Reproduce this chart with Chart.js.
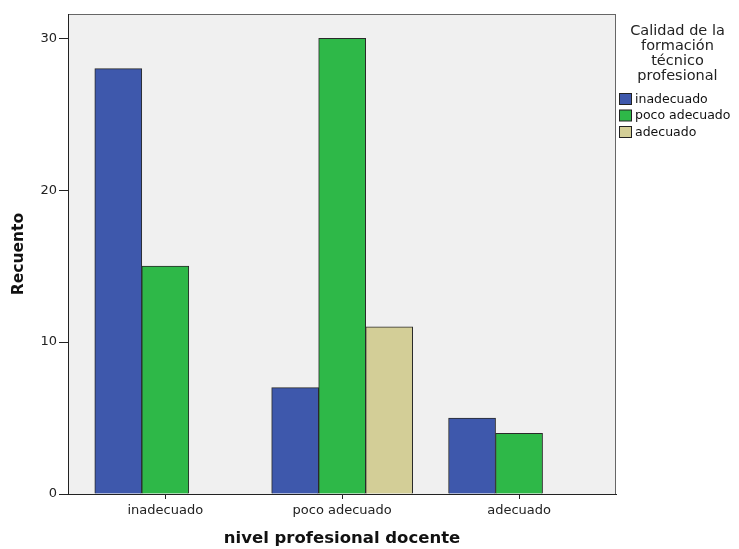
<!DOCTYPE html>
<html>
<head>
<meta charset="utf-8">
<script src="https://cdn.jsdelivr.net/npm/chart.js@4/dist/chart.umd.min.js"></script>
<style>
  html, body { margin: 0; padding: 0; background: #fff; }
</style>
</head>
<body>
<canvas id="chart-recuento" width="739" height="549"></canvas>
<script>
// nivel profesional docente x Calidad de la formación técnico profesional
const categories = ["inadecuado", "poco adecuado", "adecuado"];
const categoryPos = [1, 2, 3];
const seriesNames = ["inadecuado", "poco adecuado", "adecuado"];
const inadecuadoValues = [28, 7, 5];
const pocoAdecuadoValues = [15, 30, 4];
const adecuadoValues = [null, 11, null];
const yTicks = [0, 10, 20, 30];
const legendTitle = ["Calidad de la", "formación", "técnico", "profesional"];

const colors = ["#3e58ac", "#2eb848", "#d3ce97"];
const FONT = "'DejaVu Sans', sans-serif";

// fondo gris + marco del area del grafico
const framePlugin = {
  id: "frame",
  beforeDraw(chart) {
    const { ctx, chartArea: a } = chart;
    ctx.save();
    ctx.fillStyle = "#f0f0f0";
    ctx.fillRect(a.left, a.top, a.right - a.left, a.bottom - a.top);
    ctx.strokeStyle = "#666";
    ctx.lineWidth = 1;
    ctx.strokeRect(a.left + 0.5, a.top + 0.5, a.right - a.left - 1, a.bottom - a.top);
    ctx.restore();
  }
};

// leyenda a la derecha (titulo en varias lineas)
const legendPlugin = {
  id: "sideLegend",
  afterDraw(chart) {
    const { ctx } = chart;
    ctx.save();
    ctx.fillStyle = "#222";
    ctx.textAlign = "center";
    ctx.textBaseline = "middle";
    ctx.font = "14.5px " + FONT;
    legendTitle.forEach((line, i) => {
      ctx.fillText(line, 677.5, 31 + i * 15);
    });
    ctx.font = "12.5px " + FONT;
    ctx.textAlign = "left";
    chart.data.datasets.forEach((ds, i) => {
      const y = 99 + i * 16.5;
      ctx.fillStyle = ds.backgroundColor;
      ctx.fillRect(619.5, y - 5.5, 12, 11);
      ctx.strokeStyle = "#222";
      ctx.strokeRect(619.5, y - 5.5, 12, 11);
      ctx.fillStyle = "#111";
      ctx.fillText(ds.label, 635, y + 0.5);
    });
    ctx.restore();
  }
};

const ctx = document.getElementById("chart-recuento").getContext("2d");

new Chart(ctx, {
  type: "bar",
  data: {
    labels: categoryPos,
    datasets: [
      { label: seriesNames[0], data: inadecuadoValues, backgroundColor: colors[0] },
      { label: seriesNames[1], data: pocoAdecuadoValues, backgroundColor: colors[1] },
      { label: seriesNames[2], data: adecuadoValues, backgroundColor: colors[2] }
    ]
  },
  options: {
    responsive: false,
    animation: false,
    layout: { padding: { top: 14, right: 123, left: 0, bottom: 0 } },
    datasets: {
      bar: {
        barThickness: 47,
        borderWidth: 1,
        borderColor: "#2a2a2a",
        borderSkipped: "start"
      }
    },
    plugins: {
      legend: { display: false },
      tooltip: { enabled: false }
    },
    scales: {
      x: {
        type: "linear",
        offset: false,
        min: 0.45,
        max: 3.548,
        afterBuildTicks: scale => { scale.ticks = categoryPos.map(v => ({ value: v })); },
        afterFit: scale => { scale.height = 55; },
        grid: { offset: false, drawOnChartArea: false, tickLength: 5, tickColor: "#222" },
        border: { color: "#222" },
        ticks: {
          padding: 4,
          color: "#222",
          font: { family: FONT, size: 13 },
          maxRotation: 0,
          callback: v => categories[v - 1]
        },
        title: {
          display: true,
          text: "nivel profesional docente",
          color: "#111",
          font: { family: FONT, size: 16.5, weight: "bold" },
          padding: { top: 0, bottom: 0 }
        }
      },
      y: {
        min: 0,
        max: 31.6,
        afterBuildTicks: scale => { scale.ticks = yTicks.map(v => ({ value: v })); },
        afterFit: scale => { scale.width = 68; },
        grid: { drawOnChartArea: false, tickLength: 9, tickColor: "#222" },
        border: { color: "#222" },
        ticks: {
          padding: 2,
          color: "#222",
          font: { family: FONT, size: 13 }
        },
        title: {
          display: true,
          text: "Recuento",
          color: "#111",
          font: { family: FONT, size: 15.5, weight: "bold" },
          padding: { top: 10, bottom: 0 }
        }
      }
    }
  },
  plugins: [framePlugin, legendPlugin]
});
</script>
</body>
</html>
